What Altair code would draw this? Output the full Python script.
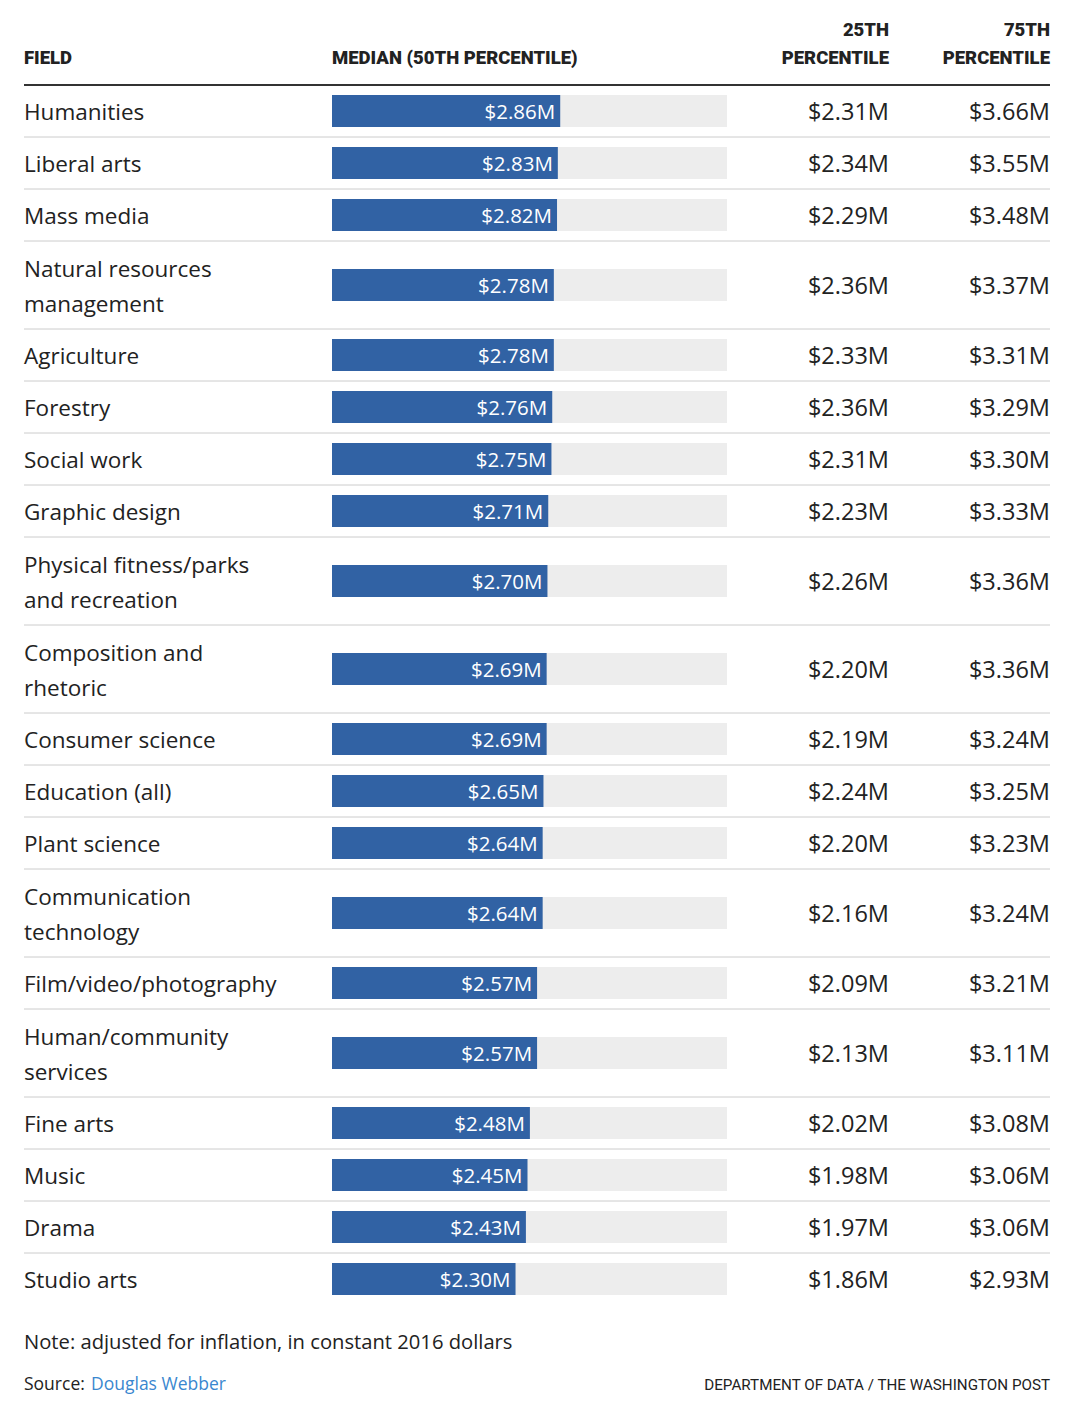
import altair as alt
import pandas as pd

# ---- data ----
labels = [
    ["Humanities"],
    ["Liberal arts"],
    ["Mass media"],
    ["Natural resources", "management"],
    ["Agriculture"],
    ["Forestry"],
    ["Social work"],
    ["Graphic design"],
    ["Physical fitness/parks", "and recreation"],
    ["Composition and", "rhetoric"],
    ["Consumer science"],
    ["Education (all)"],
    ["Plant science"],
    ["Communication", "technology"],
    ["Film/video/photography"],
    ["Human/community", "services"],
    ["Fine arts"],
    ["Music"],
    ["Drama"],
    ["Studio arts"],
]
medians = [2.86, 2.83, 2.82, 2.78, 2.78, 2.76, 2.75, 2.71, 2.70, 2.69,
           2.69, 2.65, 2.64, 2.64, 2.57, 2.57, 2.48, 2.45, 2.43, 2.30]
p25 = [2.31, 2.34, 2.29, 2.36, 2.33, 2.36, 2.31, 2.23, 2.26, 2.20,
       2.19, 2.24, 2.20, 2.16, 2.09, 2.13, 2.02, 1.98, 1.97, 1.86]
p75 = [3.66, 3.55, 3.48, 3.37, 3.31, 3.29, 3.30, 3.33, 3.36, 3.36,
       3.24, 3.25, 3.23, 3.24, 3.21, 3.11, 3.08, 3.06, 3.06, 2.93]

# ---- layout ----
W, H = 1064, 1390
TOP = 77
ROW = 52
EXTRA = 36
LINE = 35
BAR_H = 32
XMAX = 4.95
FONT = "Open Sans"
HFONT = "Roboto"
DY = 2

rows = []
lines = []
y = TOP
for i, lab in enumerate(labels):
    h = ROW + EXTRA * (len(lab) - 1)
    mid = y + h / 2
    rows.append({
        "median": medians[i], "p25": p25[i], "p75": p75[i],
        "top": y, "bottom": y + h, "mid": mid,
        "b0": mid - BAR_H / 2, "b1": mid + BAR_H / 2,
        "mtxt": f"${medians[i]:.2f}M", "p25txt": f"${p25[i]:.2f}M",
        "p75txt": f"${p75[i]:.2f}M",
        "last": i == len(labels) - 1,
    })
    n = len(lab)
    for j, t in enumerate(lab):
        lines.append({"text": t, "ly": mid + (j - (n - 1) / 2) * LINE})
    y += h

df = pd.DataFrame(rows)
ldf = pd.DataFrame(lines)

ys = alt.Scale(domain=[0, H], range=[0, H])
xs = alt.Scale(domain=[0, XMAX], range=[324, 719])

base = alt.Chart(df).transform_calculate(x0="0", x1=str(XMAX))

bg = base.mark_rect(color="#ededed").encode(
    x=alt.X("x0:Q", scale=xs, axis=None), x2="x1:Q",
    y=alt.Y("b0:Q", scale=ys, axis=None), y2="b1:Q",
)

bars = base.mark_rect(color="#3162a4").encode(
    x=alt.X("x0:Q", scale=xs, axis=None), x2="median:Q",
    y=alt.Y("b0:Q", scale=ys, axis=None), y2="b1:Q",
)

bar_txt = base.mark_text(align="right", baseline="middle", dx=-5, dy=DY,
                         color="white", font=FONT, fontSize=20.5).encode(
    x=alt.X("median:Q", scale=xs, axis=None),
    y=alt.Y("mid:Q", scale=ys, axis=None),
    text="mtxt:N",
)

p25_txt = base.mark_text(align="right", baseline="middle", color="#222", dy=DY,
                         font=FONT, fontSize=23.5).encode(
    x=alt.value(881), y=alt.Y("mid:Q", scale=ys, axis=None), text="p25txt:N")
p75_txt = base.mark_text(align="right", baseline="middle", color="#222", dy=DY,
                         font=FONT, fontSize=23.5).encode(
    x=alt.value(1042), y=alt.Y("mid:Q", scale=ys, axis=None), text="p75txt:N")

lab_txt = alt.Chart(ldf).mark_text(align="left", baseline="middle", color="#222",
                                   dy=DY, font=FONT, fontSize=22.5).encode(
    x=alt.value(16), y=alt.Y("ly:Q", scale=ys, axis=None), text="text:N")

seps = base.transform_filter("!datum.last").mark_rule(color="#cccccc", strokeWidth=1).encode(
    x=alt.value(16), x2=alt.value(1042), y=alt.Y("bottom:Q", scale=ys, axis=None))

one = pd.DataFrame({"k": [0]})

head_rule = alt.Chart(one).mark_rule(color="#333333", strokeWidth=2).encode(
    x=alt.value(16), x2=alt.value(1042), y=alt.value(TOP))


def htext(t, x, yv, align="left"):
    return alt.Chart(one).mark_text(align=align, baseline="middle", font=HFONT,
                                    fontWeight=900, fontSize=18.5, color="#222",
                                    text=t).encode(
        x=alt.value(x), y=alt.value(yv))


heads = [
    htext("FIELD", 16, 50),
    htext("MEDIAN (50TH PERCENTILE)", 324, 50),
    htext("25TH", 881, 22, "right"),
    htext("PERCENTILE", 881, 50, "right"),
    htext("75TH", 1042, 22, "right"),
    htext("PERCENTILE", 1042, 50, "right"),
]


def ftext(t, x, yv, size, color="#222", align="left", font=FONT):
    return alt.Chart(one).mark_text(align=align, baseline="middle", font=font,
                                    fontSize=size, color=color, text=t).encode(
        x=alt.value(x), y=alt.value(yv))


foot = [
    ftext("Note: adjusted for inflation, in constant 2016 dollars", 16, 1335, 20.2),
    ftext("Source:", 16, 1377, 17.5),
    ftext("Douglas Webber", 83, 1377, 17.5, color="#3a87cf"),
    ftext("DEPARTMENT OF DATA / THE WASHINGTON POST", 1042, 1377, 15.2,
          align="right", font="Roboto"),
]

chart = alt.layer(
    bg, bars, bar_txt, p25_txt, p75_txt, lab_txt, seps, head_rule, *heads, *foot
).properties(
    width=W, height=H, padding=0, autosize=alt.AutoSizeParams(type="none"),
    background="white",
).configure_view(stroke=None)

chart.save("out.html", embed_options={"renderer": "svg", "actions": False})
